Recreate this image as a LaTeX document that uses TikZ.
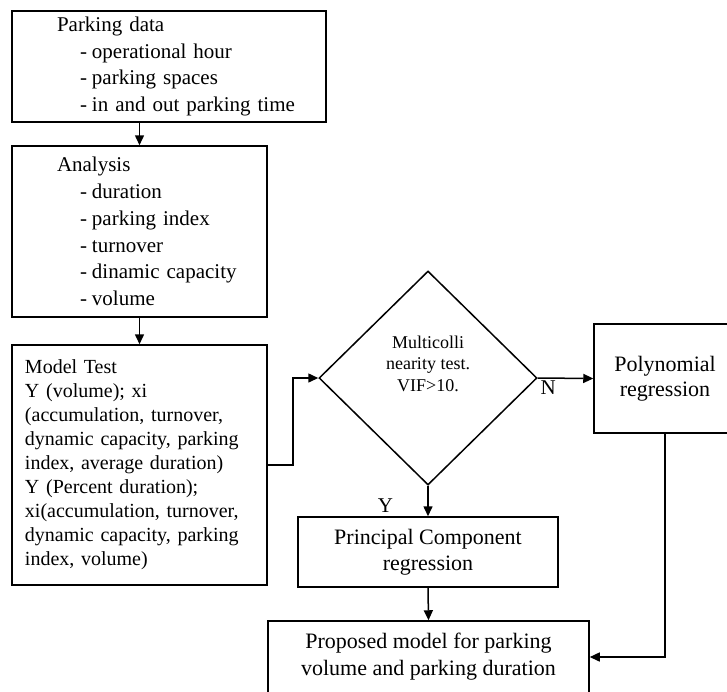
\documentclass[tikz,border=0pt]{standalone}
\usepackage{fontspec}
\setmainfont{Liberation Serif}
\usepackage{tikz}
\usetikzlibrary{shapes.geometric, arrows.meta}

\newcommand{\dashitem}[1]{\hspace*{68pt}\makebox[12pt][l]{-}#1}

\begin{document}
\begin{tikzpicture}[x=1pt, y=-1pt, line width=1.5pt,
            box/.style={draw, rectangle, inner sep=0pt},
            listbox/.style={box, align=left, font=\fontsize{21}{26.7}\selectfont},
            arr/.style={-{Triangle[length=10pt, width=9pt]}}]
            \useasboundingbox (0,0) rectangle (727,691);
            \clip (0,0) rectangle (727,691);
            \node[listbox, text width=314pt, minimum height=111pt] (data) at (169,66.5)
                {\hspace*{45pt}Parking data\\ \dashitem{operational hour}\\ \dashitem{parking spaces}\\ \dashitem{in and out parking time}};
            \node[listbox, text width=255pt, minimum height=171pt] (analysis) at (139.5,231.5)
                {\hspace*{45pt}Analysis\\ \dashitem{duration}\\ \dashitem{parking index}\\ \dashitem{turnover}\\ \dashitem{dinamic capacity}\\ \dashitem{volume}};
            \node[box, align=left, text width=255pt, minimum height=240pt, font=\fontsize{20}{24}\selectfont] (model) at (139.5,465)
                {\hspace*{13pt}Model Test\\ \hspace*{13pt}Y (volume); xi\\ \hspace*{13pt}(accumulation, turnover,\\ \hspace*{13pt}dynamic capacity, parking\\ \hspace*{13pt}index, average duration)\\ \hspace*{13pt}Y (Percent duration);\\ \hspace*{13pt}xi(accumulation, turnover,\\ \hspace*{13pt}dynamic capacity, parking\\ \hspace*{13pt}index, volume)};
            \node[draw, diamond, minimum width=218pt, minimum height=214pt, inner sep=0pt] (test) at (428,378) {};
            \node[align=center, font=\fontsize{18}{21.5}\selectfont] (testtext) at ([yshift=14.5pt]test.center)
                {Multicolli\\nearity test.\\VIF>10.};
            \node[box, align=center, minimum width=142pt, minimum height=109pt, font=\fontsize{22}{25}\selectfont] (poly) at (665,378.5)
                {Polynomial\\regression};
            \node[box, align=center, minimum width=260pt, minimum height=70pt, font=\fontsize{22}{26}\selectfont] (pcr) at (428,552)
                {Principal Component\\regression};
            \node[box, align=center, minimum width=321pt, minimum height=72pt, font=\fontsize{22}{27}\selectfont] (proposed) at (428.5,657)
                {Proposed model for parking\\volume and parking duration};
            \node[anchor=north west, inner sep=2pt, font=\fontsize{21}{24}\selectfont] (nlab) at (test.east) {N};
            \node[anchor=north west, inner sep=0pt, font=\fontsize{21}{24}\selectfont] (ylab) at (377,498) {Y};
            \draw[arr] (data.south -| analysis.north) -- (analysis.north);
            \draw[arr] (analysis.south) -- (model.north);
            \draw[arr] (model.east) -- ++(25,0) |- (test.west);
            \draw[arr] (test.east) -- (poly.west);
            \draw[arr] (test.south) -- (pcr.north);
            \draw[arr] (pcr.south) -- (proposed.north);
            \draw[arr] (poly.south) |- (proposed.east);
        \end{tikzpicture}
\end{document}
